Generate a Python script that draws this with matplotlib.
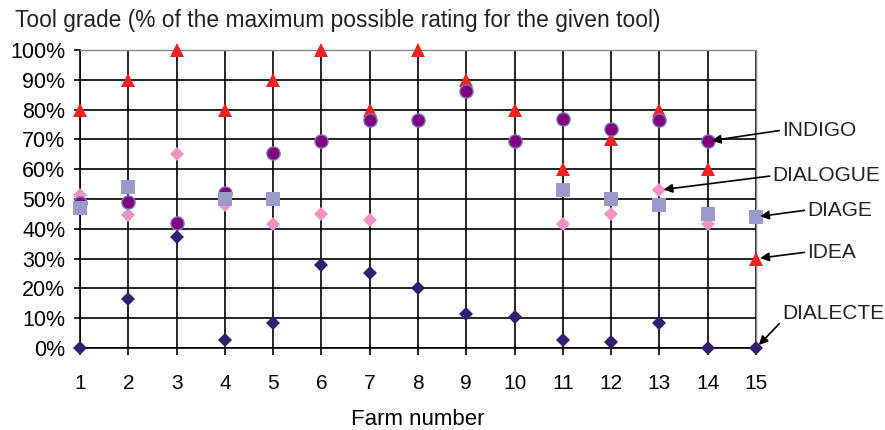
import numpy as np
import matplotlib
matplotlib.use("Agg")
import matplotlib.pyplot as plt

nan = np.nan

farms = list(range(1, 16))

idea = [80, 90, 100, 80, 90, 100, 80, 100, 90, 80, 60, 70, 80, 60, 30]
indigo = [48.5, 49, 42, 52, 65.3, 69.4, 76.5, 76.5, 86.2, 69.4, 77, 73.5, 76.5, 69.4, nan]
diage = [47, 54, nan, 50, 50, nan, nan, nan, nan, nan, 53, 50, 48, 44.8, 44]
dialogue = [51.5, 44.5, 65.2, 48, 41.5, 45, 43, nan, nan, nan, 41.5, 45, 53, 41.5, nan]
dialecte = [0, 16.4, 37.4, 2.8, 8.4, 28, 25.3, 20, 11.4, 10.3, 2.8, 1.9, 8.4, 0, 0]

y_ticks = [0, 10, 20, 30, 40, 50, 60, 70, 80, 90, 100]
y_tick_labels = [f"{v}%" for v in y_ticks]

plt.rcParams["font.family"] = ["Liberation Sans", "DejaVu Sans"]

fig = plt.figure(figsize=(8.85, 4.3), dpi=100)
ax = fig.add_axes([80 / 885, 1 - 348 / 430, 676 / 885, 298 / 430])

# grid
ax.set_axisbelow(True)
ax.grid(True, color="black", linewidth=1.2)

# series (drawing order matters for overlaps)
ax.plot(farms, dialogue, linestyle="none", marker="D", markersize=7.3,
        color="#F093C3", markeredgewidth=0, clip_on=False, zorder=3)
ax.plot(farms, idea, linestyle="none", marker="^", markersize=9.5,
        color="#EE2222", markeredgewidth=0, clip_on=False, zorder=4)
ax.plot(farms, indigo, linestyle="none", marker="o", markersize=9.5,
        markerfacecolor="#800080", markeredgecolor="#7878B8",
        markeredgewidth=1, clip_on=False, zorder=5)
ax.plot(farms, diage, linestyle="none", marker="s", markersize=9.5,
        color="#9999CC", markeredgewidth=0, clip_on=False, zorder=6)
ax.plot(farms, dialecte, linestyle="none", marker="D", markersize=7.3,
        color="#2F1F6E", markeredgewidth=0, clip_on=False, zorder=7)

ax.set_xlim(1, 15)
ax.set_ylim(0, 100)
ax.set_xticks(farms)
ax.set_yticks(y_ticks)
ax.set_yticklabels(y_tick_labels)
ax.tick_params(axis="x", length=5, width=1.2, pad=14, labelsize=15)
ax.tick_params(axis="y", length=4.5, width=1.2, pad=6, labelsize=15.5)

for side in ("left", "bottom"):
    ax.spines[side].set_color("black")
    ax.spines[side].set_linewidth(1.2)
for side in ("top", "right"):
    ax.spines[side].set_color("#888888")
    ax.spines[side].set_linewidth(1.0)

ax.set_xlabel("Farm number", fontsize=16, labelpad=11)
fig.text(15 / 885, 1 - 27 / 430,
         "Tool grade (% of the maximum possible rating for the given tool)",
         fontsize=16.4, color="#222222", va="baseline", ha="left")

# series labels with arrows
arrow = dict(arrowstyle="-|>", color="black", lw=1.2, mutation_scale=13,
             shrinkA=0, shrinkB=3)
labels = [
    ("INDIGO", (14, 69.4), (15.54, 73.1), (0, 0.5)),
    ("DIALOGUE", (13, 53), (15.34, 57.8), (0, 0.5)),
    ("DIAGE", (15, 44), (16.06, 46.3), (0, 0.5)),
    ("IDEA", (15, 30), (16.06, 32.2), (0, 0.5)),
    ("DIALECTE", (15, 0), (15.54, 11.7), (0, 0.1)),
]
for name, xy, xytext, rel in labels:
    ax.annotate(name, xy=xy, xytext=xytext, textcoords="data",
                fontsize=15, color="#222222", ha="left", va="center",
                annotation_clip=False,
                arrowprops=dict(arrow, relpos=rel), zorder=8)

fig.savefig("out.png", dpi=100)
